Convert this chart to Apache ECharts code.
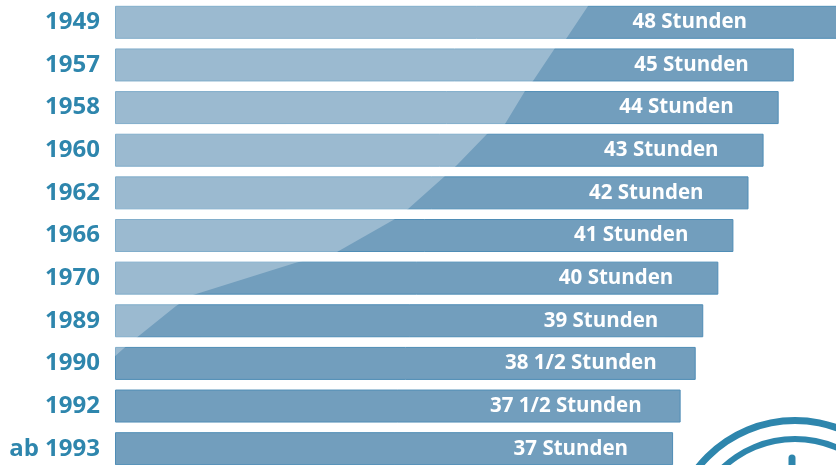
<!DOCTYPE html>
<html>
<head>
<meta charset="utf-8">
<script src="https://cdn.jsdelivr.net/npm/echarts@6/dist/echarts.min.js"></script>
<style>
  html, body { margin: 0; padding: 0; background: #fff; }
  #chart { width: 836px; height: 465px; }
</style>
</head>
<body>
<div id="chart"></div>
<script>
// Jahre und Wochenarbeitszeit
var years = ['1949', '1957', '1958', '1960', '1962', '1966', '1970', '1989', '1990', '1992', 'ab 1993'];
var hours = [48, 45, 44, 43, 42, 41, 40, 39, 38.5, 37.5, 37];
var hourLabels = ['48 Stunden', '45 Stunden', '44 Stunden', '43 Stunden', '42 Stunden', '41 Stunden',
  '40 Stunden', '39 Stunden', '38 1/2 Stunden', '37 1/2 Stunden', '37 Stunden'];

var blue = '#2e86ad';
var barColor = '#729ebd';

var chart = echarts.init(document.getElementById('chart'));

// heller Schwung ueber den Balken (nur Dekoration)
var sweep = [[115, 0], [592, 0], [566, 39], [555, 48], [533, 81], [525, 91], [505, 124], [487, 134],
  [457, 165], [445, 176], [408, 209], [395, 219], [337, 252], [295, 263], [193, 295], [176, 306],
  [135, 339], [123, 349], [113, 358], [113, 0]];

chart.setOption({
  animation: false,
  grid: { left: 115, right: -3, top: 1, bottom: -5, outerBoundsMode: 'none', containLabel: false },
  xAxis: { type: 'value', min: 0, max: 48, show: false },
  yAxis: {
    type: 'category',
    inverse: true,
    data: years,
    axisLine: { show: false },
    axisTick: { show: false },
    axisLabel: {
      margin: 15,
      color: blue,
      fontFamily: 'Open Sans',
      fontWeight: 'bold',
      fontSize: 24
    }
  },
  series: [{
    type: 'bar',
    barWidth: 33,
    data: hours.map(function (v, i) {
      return {
        value: v,
        label: { distance: i === 0 ? 92 : (v % 1 ? 39 : 45) }
      };
    }),
    itemStyle: { color: barColor, borderColor: '#4f8db6', borderWidth: 1 },
    label: {
      show: true,
      position: 'insideRight',
      color: '#fff',
      fontFamily: 'Open Sans',
      fontWeight: 'bold',
      fontSize: 20.5,
      formatter: function (p) { return hourLabels[p.dataIndex]; }
    }
  }],
  graphic: [
    {
      type: 'polygon',
      z: 10,
      silent: true,
      shape: { points: sweep },
      style: { fill: 'rgba(255,255,255,0.29)' }
    },
    {
      type: 'ring',
      z: 10,
      silent: true,
      shape: { cx: 795, cy: 544, r: 127, r0: 120 },
      style: { fill: blue }
    },
    {
      type: 'ring',
      z: 10,
      silent: true,
      shape: { cx: 795, cy: 544, r: 108, r0: 102 },
      style: { fill: blue }
    },
    {
      type: 'line',
      z: 10,
      silent: true,
      shape: { x1: 792, y1: 458, x2: 792, y2: 470 },
      style: { stroke: blue, lineWidth: 7, lineCap: 'round' }
    }
  ]
});
</script>
</body>
</html>
